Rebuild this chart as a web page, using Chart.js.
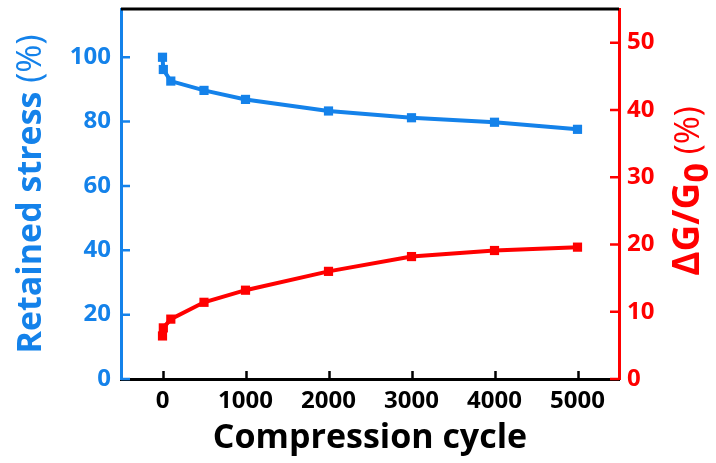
<!DOCTYPE html>
<html>
<head>
<meta charset="utf-8">
<script src="https://cdn.jsdelivr.net/npm/chart.js@4/dist/chart.umd.min.js"></script>
<style>
  html, body { margin: 0; padding: 0; background: #fff; }
  #wrap { width: 716px; height: 463px; }
</style>
</head>
<body>
<div id="wrap"><canvas id="plot"></canvas></div>
<script>
// values
let cycles = [0, 10, 100, 500, 1000, 2000, 3000, 4000, 5000];
let retainedStress = [100, 96.2, 92.6, 89.7, 86.9, 83.3, 81.2, 79.8, 77.6];
let deltaG = [6.4, 7.6, 8.9, 11.4, 13.2, 16.0, 18.2, 19.1, 19.6];
let xTicks = [0, 1000, 2000, 3000, 4000, 5000];
let leftTicks = [0, 20, 40, 60, 80, 100];
let rightTicks = [0, 10, 20, 30, 40, 50];

const BLUE = '#1482EA';
const RED = '#FF0000';
const FONT = "'Open Sans', sans-serif";

function toPoints(xs, ys) {
    return xs.map((x, i) => ({ x: x, y: ys[i] }));
}

function keepTicks(list) {
    return function (scale) {
        scale.ticks = list.map(v => ({ value: v }));
    };
}

// draws a rotated title made of [text, font, dy] pieces, centred at (cx, cy)
function rotatedTitle(ctx, cx, cy, pieces, color) {
    ctx.save();
    ctx.fillStyle = color;
    ctx.translate(cx, cy);
    ctx.rotate(-Math.PI / 2);
    ctx.textBaseline = 'alphabetic';
    let widths = pieces.map(p => { ctx.font = p[1]; return ctx.measureText(p[0]).width; });
    let x = -widths.reduce((s, w) => s + w, 0) / 2;
    pieces.forEach((p, i) => {
        ctx.font = p[1];
        ctx.fillText(p[0], x, p[2]);
        x += widths[i];
    });
    ctx.restore();
}

// inward tick marks, top frame line and the two y titles
const framePlugin = {
    id: 'frame',
    afterDraw(chart) {
        const ctx = chart.ctx;
        const a = chart.chartArea;
        const sx = chart.scales.x, sy = chart.scales.y, sy1 = chart.scales.y1;
        ctx.save();
        ctx.lineWidth = 3;
        ctx.lineCap = 'butt';

        ctx.strokeStyle = '#000';
        ctx.beginPath();
        ctx.moveTo(a.left, a.top);
        ctx.lineTo(a.right, a.top);
        ctx.stroke();

        ctx.lineWidth = 2.5;
        ctx.beginPath();
        xTicks.forEach(v => {
            const px = Math.round(sx.getPixelForValue(v)) + 0.5;
            ctx.moveTo(px, a.bottom);
            ctx.lineTo(px, a.bottom - 8);
        });
        ctx.stroke();

        ctx.strokeStyle = BLUE;
        ctx.beginPath();
        leftTicks.forEach(v => {
            const py = sy.getPixelForValue(v);
            ctx.moveTo(a.left, py);
            ctx.lineTo(a.left + 9, py);
        });
        ctx.stroke();

        ctx.strokeStyle = RED;
        ctx.beginPath();
        rightTicks.forEach(v => {
            const py = sy1.getPixelForValue(v);
            ctx.moveTo(a.right, py);
            ctx.lineTo(a.right - 9, py);
        });
        ctx.stroke();
        ctx.restore();

        const midY = (a.top + a.bottom) / 2;
        rotatedTitle(ctx, 41, midY, [
            ['Retained stress ', 'bold 34px ' + FONT, 0],
            ['(%)', '34px ' + FONT, 0]
        ], BLUE);
        rotatedTitle(ctx, a.right + 80, midY - 3, [
            ['\u0394G/G', 'bold 37px ' + FONT, 0],
            ['0', 'bold 34px ' + FONT, 9],
            [' (%)', '34px ' + FONT, 0]
        ], RED);
    }
};

const tickFont = { family: FONT, size: 24, weight: 'bold' };

new Chart(document.getElementById('plot').getContext('2d'), {
    type: 'line',
    data: {
        datasets: [{
            label: 'Retained stress',
            data: toPoints(cycles, retainedStress),
            yAxisID: 'y',
            borderColor: BLUE,
            backgroundColor: BLUE,
            borderWidth: 4,
            pointStyle: 'rect',
            pointRadius: 6.5,
            pointBorderWidth: 0,
            tension: 0
        }, {
            label: 'dG/G0',
            data: toPoints(cycles, deltaG),
            yAxisID: 'y1',
            borderColor: RED,
            backgroundColor: RED,
            borderWidth: 4,
            pointStyle: 'rect',
            pointRadius: 6.5,
            pointBorderWidth: 0,
            tension: 0
        }]
    },
    options: {
        responsive: true,
        maintainAspectRatio: false,
        animation: false,
        layout: { padding: { top: 9, left: 0, right: 0, bottom: 0 } },
        plugins: { legend: { display: false }, tooltip: { enabled: false } },
        scales: {
            x: {
                type: 'linear',
                min: -500,
                max: 5500,
                afterBuildTicks: keepTicks(xTicks),
                afterFit(scale) { scale.height = 84; scale.paddingLeft = 0; scale.paddingRight = 0; },
                grid: { display: false, drawTicks: false },
                border: { color: '#000', width: 3 },
                ticks: { color: '#000', padding: 8, font: tickFont, callback: v => String(v) },
                title: {
                    display: true,
                    text: 'Compression cycle',
                    color: '#000',
                    padding: { top: 0 },
                    font: { family: FONT, size: 34, weight: 'bold' }
                }
            },
            y: {
                position: 'left',
                min: 0,
                max: 115,
                afterBuildTicks: keepTicks(leftTicks),
                afterFit(scale) { scale.width = 121; scale.paddingTop = 0; scale.paddingBottom = 0; },
                grid: { display: false, drawTicks: false },
                border: { color: BLUE, width: 3 },
                ticks: { color: BLUE, padding: 10, font: tickFont }
            },
            y1: {
                position: 'right',
                min: 0,
                max: 55,
                afterBuildTicks: keepTicks(rightTicks),
                afterFit(scale) { scale.width = 97; scale.paddingTop = 0; scale.paddingBottom = 0; },
                grid: { display: false, drawTicks: false },
                border: { color: RED, width: 3 },
                ticks: { color: RED, padding: 8, font: tickFont }
            }
        }
    },
    plugins: [framePlugin]
});
</script>
</body>
</html>
